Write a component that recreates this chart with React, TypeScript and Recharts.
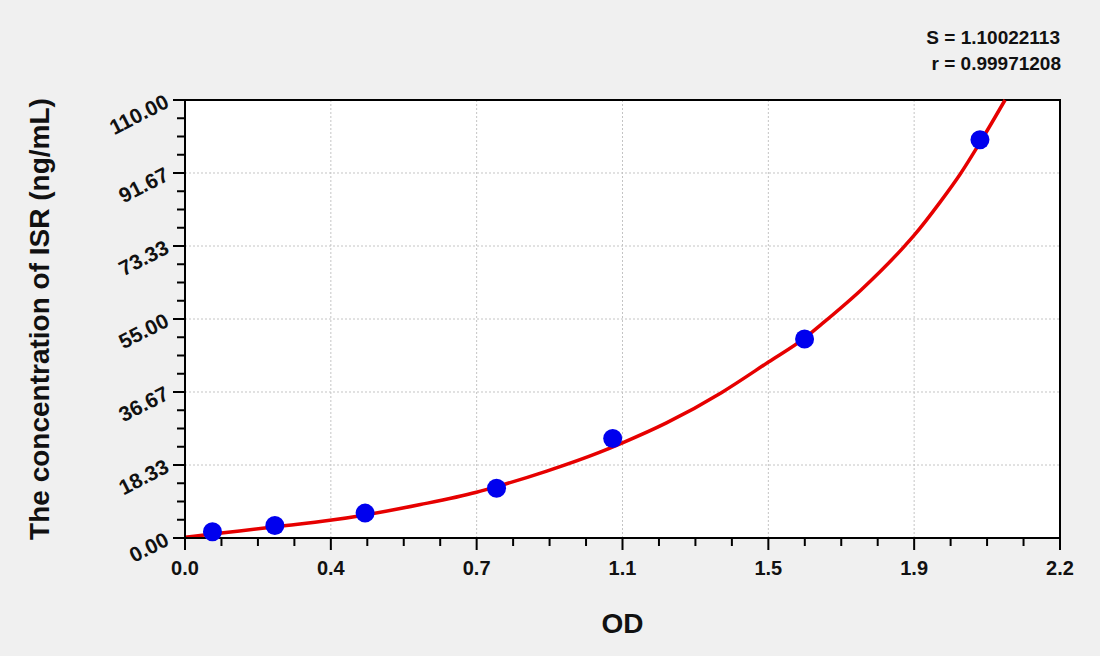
import React from 'react';
import { ComposedChart, Line, Scatter, XAxis, YAxis, CartesianGrid, ReferenceArea } from 'recharts';

// standards: OD read vs known concentration (ng/mL)
const stdOD = [0.07, 0.229, 0.459, 0.794, 1.09, 1.579, 2.026];
const stdConc = [1.56, 3.12, 6.25, 12.5, 25, 50, 100];

// fitted curve, points
const curveOD = [0, 0.07, 0.23, 0.374, 0.459, 0.6, 0.743, 0.794, 0.922, 1.056, 1.115, 1.227, 1.367, 1.487, 1.579, 1.621, 1.723, 1.831, 1.858, 1.924, 1.975, 2.026, 2.09];
const curveConc = [0.2, 1.0, 2.8, 4.5, 5.8, 8.4, 11.5, 12.9, 16.8, 21.5, 23.9, 28.9, 36.5, 44.2, 50.2, 53.6, 62.3, 73.0, 76.0, 84.3, 91.3, 99.3, 110];

// axes
const xMajor = [0, 0.3717, 0.7433, 1.115, 1.4867, 1.8583, 2.23];
const xLabels = ['0.0', '0.4', '0.7', '1.1', '1.5', '1.9', '2.2'];
const yMajor = [0, 18.333, 36.667, 55, 73.333, 91.667, 110];
const yLabels = ['0.00', '18.33', '36.67', '55.00', '73.33', '91.67', '110.00'];

const FONT = "'Liberation Sans', Arial, sans-serif";
const MINOR_PER_MAJOR = 4;

// major ticks plus 3 minor ticks between each pair
function withMinor(major: number[]) {
  const out: number[] = [];
  for (let i = 0; i < major.length - 1; i++) {
    const step = (major[i + 1] - major[i]) / MINOR_PER_MAJOR;
    for (let k = 0; k < MINOR_PER_MAJOR; k++) out.push(major[i] + step * k);
  }
  out.push(major[major.length - 1]);
  return out;
}

const xTicks = withMinor(xMajor);
const yTicks = withMinor(yMajor);

const scatterData = stdOD.map((x, i) => ({ x, y: stdConc[i] }));
const curveData = curveOD.map((x, i) => ({ x, y: curveConc[i] }));

const renderXTick = (props: any) => {
  const { x, y, index } = props;
  const major = index % MINOR_PER_MAJOR === 0;
  return (
    <g>
      <line x1={x} x2={x} y1={y} y2={y + (major ? 12 : 8)} stroke="#000" strokeWidth={2} />
      {major && (
        <text x={x} y={y + 37} textAnchor="middle" fontSize={20} fontWeight="bold" fill="#111" fontFamily={FONT}>
          {xLabels[index / MINOR_PER_MAJOR]}
        </text>
      )}
    </g>
  );
};

const renderYTick = (props: any) => {
  const { x, y, payload } = props;
  const idx = yMajor.findIndex((v) => Math.abs(v - payload.value) < 1e-6);
  const major = idx >= 0;
  const tx = x - 18;
  return (
    <g>
      <line x1={x - (major ? 12 : 8)} x2={x} y1={y} y2={y} stroke="#000" strokeWidth={2} />
      {major && (
        <text
          x={tx}
          y={y}
          dy="0.35em"
          textAnchor="end"
          fontSize={21}
          fontWeight="bold"
          fill="#111"
          fontFamily={FONT}
          transform={`rotate(-27 ${tx} ${y})`}
        >
          {yLabels[idx]}
        </text>
      )}
    </g>
  );
};

const renderDot = (props: any) => <circle cx={props.cx} cy={props.cy} r={9.5} fill="#0000ee" />;

export default function App() {
  return (
    <div style={{ position: 'absolute', left: 0, top: 0, width: 1100, height: 656, background: '#f0f0f0', fontFamily: FONT }}>
      <ComposedChart width={1100} height={656} margin={{ top: 100, right: 40, bottom: 0, left: 0 }}>
        <CartesianGrid
          fill="#fff"
          stroke="#c4c4c4"
          strokeDasharray="2 2"
          verticalValues={xMajor}
          horizontalValues={yMajor}
        />
        <XAxis
          dataKey="x"
          type="number"
          domain={[0, 2.23]}
          ticks={xTicks}
          interval={0}
          tick={renderXTick}
          tickLine={false}
          tickSize={0}
          tickMargin={0}
          height={118}
          axisLine={{ stroke: '#000', strokeWidth: 2 }}
        />
        <YAxis
          type="number"
          domain={[0, 110]}
          ticks={yTicks}
          interval={0}
          tick={renderYTick}
          tickLine={false}
          tickSize={0}
          tickMargin={0}
          width={185}
          axisLine={{ stroke: '#000', strokeWidth: 2 }}
        />
        <ReferenceArea x1={0} x2={2.23} y1={0} y2={110} fill="none" stroke="#000" strokeWidth={2} ifOverflow="visible" />
        <Scatter data={scatterData} dataKey="y" shape={renderDot} isAnimationActive={false} />
        <Line
          data={curveData}
          dataKey="y"
          type="monotone"
          stroke="#e60000"
          strokeWidth={3.5}
          dot={false}
          activeDot={false}
          isAnimationActive={false}
        />
      </ComposedChart>
      <svg width={1100} height={656} style={{ position: 'absolute', left: 0, top: 0, pointerEvents: 'none' }}>
        <g fontFamily={FONT} fontWeight="bold" fill="#111">
          <text x={1060} y={44} textAnchor="end" fontSize={19}>S = 1.10022113</text>
          <text x={1061} y={70} textAnchor="end" fontSize={19}>r = 0.99971208</text>
          <text x={622.5} y={633} textAnchor="middle" fontSize={28}>OD</text>
          <text x={49} y={319} textAnchor="middle" fontSize={28} transform="rotate(-90 49 319)">
            The concentration of ISR (ng/mL)
          </text>
        </g>
      </svg>
    </div>
  );
}
